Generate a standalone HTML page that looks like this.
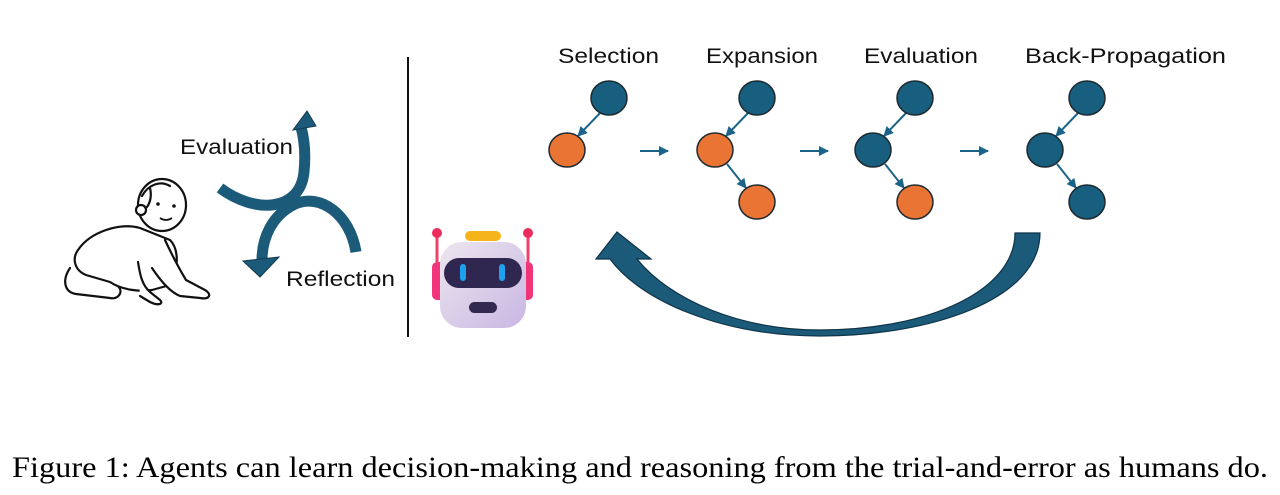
<!DOCTYPE html>
<html><head><meta charset="utf-8"><style>
html,body{margin:0;padding:0;background:#fff;width:1280px;height:495px;overflow:hidden}
.lab{font-family:"Liberation Sans",Arial,sans-serif;font-size:21px;fill:#111}
.cap{font-family:"Liberation Serif","Times New Roman",serif;font-size:30px;fill:#000}
</style></head><body>
<svg width="1280" height="495" viewBox="0 0 1280 495" xmlns="http://www.w3.org/2000/svg">
<defs>
<marker id="ah" viewBox="0 0 10 10" refX="9" refY="5" markerWidth="5" markerHeight="5" orient="auto"><path d="M0,0L10,5L0,10z" fill="#1c6389"/></marker>
<linearGradient id="face" x1="0" y1="0" x2="1" y2="1"><stop offset="0" stop-color="#ece6ee"/><stop offset="1" stop-color="#c9b6e3"/></linearGradient>
</defs>
<text class="lab" x="180" y="154" textLength="113" lengthAdjust="spacingAndGlyphs">Evaluation</text>
<text class="lab" x="286" y="286" textLength="109" lengthAdjust="spacingAndGlyphs">Reflection</text>
<text class="lab" x="558" y="63" textLength="101" lengthAdjust="spacingAndGlyphs">Selection</text>
<text class="lab" x="706" y="63" textLength="112" lengthAdjust="spacingAndGlyphs">Expansion</text>
<text class="lab" x="864" y="63" textLength="114" lengthAdjust="spacingAndGlyphs">Evaluation</text>
<text class="lab" x="1025" y="63" textLength="201" lengthAdjust="spacingAndGlyphs">Back-Propagation</text>
<g fill="#fff" stroke="#111" stroke-width="2.2" stroke-linejoin="round" stroke-linecap="round">
<path d="M70,268 C62,280 64,292 76,294 L110,298 C118,300 124,292 118,286 L100,276"/>
<path d="M78,250 C90,232 120,222 140,228 L170,240 C180,250 178,272 170,285 L152,290 C140,292 122,290 110,282 L86,275 C74,270 72,258 78,250Z"/>
<path d="M165,240 C172,255 180,270 186,280 L205,290 C212,294 210,300 200,298 L180,296 C170,292 160,280 152,268"/>
<path d="M138,262 C140,275 142,285 150,292 L160,300 C164,304 158,306 150,302 L140,296"/>
<ellipse cx="162" cy="205" rx="24" ry="26"/>
<path d="M142,196 C148,185 160,180 170,186 M150,188 C152,196 150,204 146,208"/>
<circle cx="141" cy="210" r="5"/>
</g>
<g fill="#111"><circle cx="158" cy="204" r="1.8"/><circle cx="174" cy="206" r="1.8"/></g>
<path d="M160,218 Q166,222 172,218" fill="none" stroke="#111" stroke-width="1.8"/>
<g fill="none" stroke="#1b5a78" stroke-width="11" stroke-linecap="butt">
<path d="M220,188 C255,214 300,212 304,172 C306,152 304,138 301,127"/>
<path d="M356,252 C350,214 320,193 295,204 C272,215 262,238 262,260"/>
</g>
<g fill="#1b5a78" stroke="#123a50" stroke-width="1">
<path d="M307,111 L293,130 L316,126Z"/>
<path d="M260,277 L243,261 L279,257Z"/>
</g>
<line x1="408" y1="57" x2="408" y2="337" stroke="#111" stroke-width="2"/>
<g>
<line x1="437" y1="236" x2="437" y2="262" stroke="#f2406a" stroke-width="3"/>
<line x1="528" y1="236" x2="528" y2="262" stroke="#f2406a" stroke-width="3"/>
<circle cx="437" cy="233" r="5" fill="#ec2d5c"/><circle cx="528" cy="233" r="5" fill="#ec2d5c"/>
<rect x="432" y="262" width="14" height="38" rx="5" fill="#f0357a"/>
<rect x="519" y="262" width="14" height="38" rx="5" fill="#f0357a"/>
<rect x="465" y="231" width="36" height="10" rx="5" fill="#f4b41a"/>
<rect x="440" y="242" width="86" height="86" rx="22" fill="url(#face)"/>
<rect x="444" y="258" width="78" height="30" rx="15" fill="#2f2750"/>
<rect x="460" y="264" width="6" height="17" rx="3" fill="#1ea2f0"/>
<rect x="499" y="264" width="6" height="17" rx="3" fill="#1ea2f0"/>
<rect x="469" y="302" width="28" height="11" rx="5.5" fill="#33284d"/>
</g>
<g stroke="#1c6389" stroke-width="2" marker-end="url(#ah)">
<line x1="601" y1="112" x2="578" y2="136"/>
<line x1="640" y1="151" x2="668" y2="151"/>
<line x1="749" y1="112" x2="726" y2="136"/>
<line x1="727" y1="164" x2="746" y2="188"/>
<line x1="800" y1="151" x2="828" y2="151"/>
<line x1="907" y1="112" x2="884" y2="136"/>
<line x1="885" y1="164" x2="904" y2="188"/>
<line x1="960" y1="151" x2="988" y2="151"/>
<line x1="1079" y1="112" x2="1056" y2="136"/>
<line x1="1057" y1="164" x2="1076" y2="188"/>
</g>
<g stroke="#1e2a30" stroke-width="1.5">
<ellipse cx="609" cy="98" rx="18" ry="17" fill="#175e7f"/>
<ellipse cx="567" cy="150" rx="18" ry="17" fill="#ea7434"/>
<ellipse cx="757" cy="98" rx="18" ry="17" fill="#175e7f"/>
<ellipse cx="715" cy="150" rx="18" ry="17" fill="#ea7434"/>
<ellipse cx="757" cy="202" rx="18" ry="17" fill="#ea7434"/>
<ellipse cx="915" cy="98" rx="18" ry="17" fill="#175e7f"/>
<ellipse cx="873" cy="150" rx="18" ry="17" fill="#175e7f"/>
<ellipse cx="915" cy="202" rx="18" ry="17" fill="#ea7434"/>
<ellipse cx="1087" cy="98" rx="18" ry="17" fill="#175e7f"/>
<ellipse cx="1045" cy="150" rx="18" ry="17" fill="#175e7f"/>
<ellipse cx="1087" cy="202" rx="18" ry="17" fill="#175e7f"/>
</g>
<path d="M1040,233 C1040,300 930,336 820,336 C720,336 640,300 610,259 L596,259 L617,232 L651,259 L637,259 C670,300 740,330 820,330 C930,330 1015,290 1015,233 Z" fill="#1b5a78" stroke="#0f3347" stroke-width="1.2"/>
<text class="cap" x="12" y="477" textLength="1256" lengthAdjust="spacingAndGlyphs">Figure 1: Agents can learn decision-making and reasoning from the trial-and-error as humans do.</text>
</svg>
</body></html>
